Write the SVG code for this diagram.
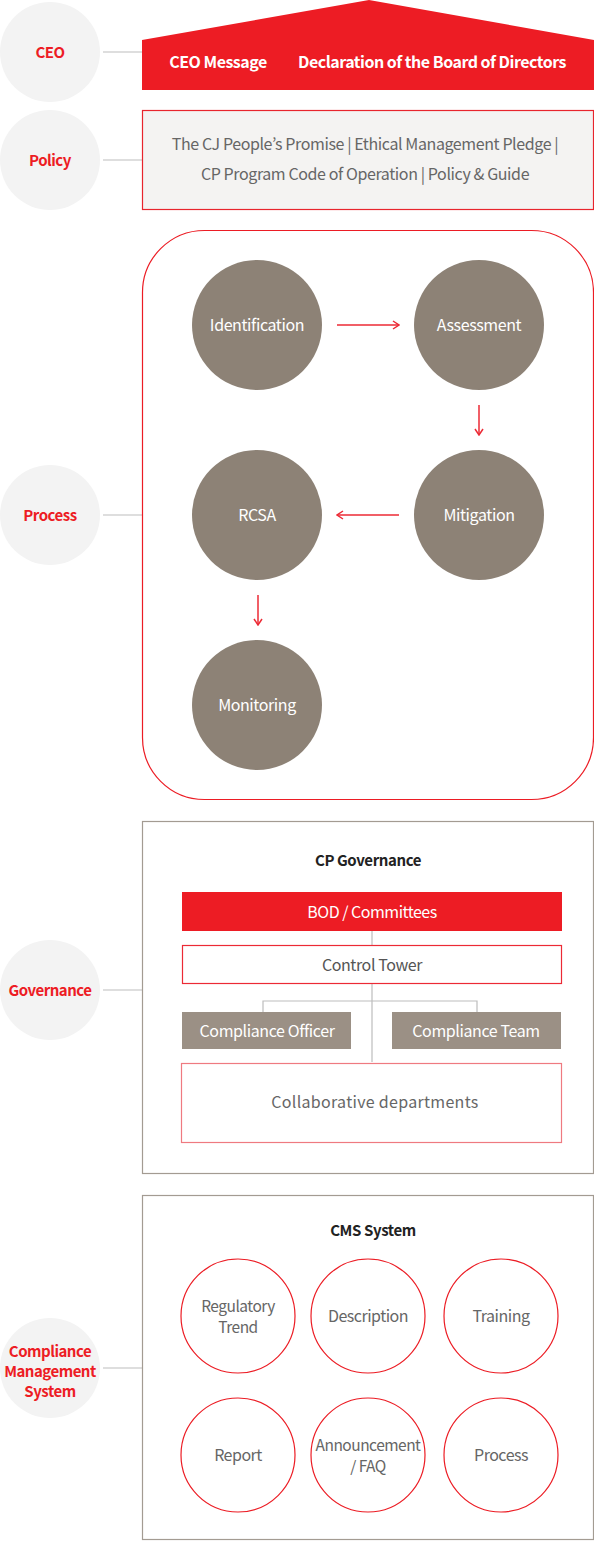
<svg xmlns="http://www.w3.org/2000/svg" width="594" height="1541" viewBox="0 0 594 1541">
<style>
text{font-family:"Noto Sans CJK KR","Noto Sans",sans-serif;text-anchor:middle;dominant-baseline:central}
.lab{fill:#f3f3f3}
.labt{fill:#ed1c24;font-size:15px;font-weight:bold;letter-spacing:-0.5px}
.link{stroke:#bdbdbd;stroke-width:1.2;fill:none}
.pc{fill:#8d8276}
.pt{fill:#fff;font-size:16px;letter-spacing:-0.4px}
.arr{stroke:#ec2a35;stroke-width:1.5;fill:none;marker-end:url(#ah)}
.gt{fill:#555;font-size:16px;letter-spacing:-0.4px}
.cc{fill:#fff;stroke:#ec1c24;stroke-width:1.2}
.ct{fill:#666;font-size:16px;letter-spacing:-0.5px}
.ct2{fill:#666;font-size:15.5px;letter-spacing:-0.5px}
.frame{fill:#fff;stroke:#a39b92;stroke-width:1.2}
.ttl{fill:#222;font-size:15px;font-weight:bold;letter-spacing:-0.4px}
</style>
<defs>
<marker id="ah" viewBox="0 0 10 10" refX="9" refY="5" markerWidth="10" markerHeight="10" markerUnits="userSpaceOnUse" orient="auto">
<path d="M3,1 L9,5 L3,9" fill="none" stroke="#ec2a35" stroke-width="1.5"/>
</marker>
</defs>
<g id="connectors">
<line class="link" x1="103" y1="52" x2="142" y2="52"/>
<line class="link" x1="103" y1="160" x2="142" y2="160"/>
<line class="link" x1="103" y1="515" x2="142" y2="515"/>
<line class="link" x1="103" y1="990" x2="142" y2="990"/>
<line class="link" x1="103" y1="1368" x2="142" y2="1368"/>
</g>
<g id="label-ceo"><circle class="lab" cx="50" cy="52" r="50"/><text class="labt" x="50" y="51">CEO</text></g>
<g id="label-policy"><circle class="lab" cx="50" cy="160" r="50"/><text class="labt" x="50" y="159">Policy</text></g>
<g id="label-process"><circle class="lab" cx="50" cy="515" r="50"/><text class="labt" x="50" y="514">Process</text></g>
<g id="label-governance"><circle class="lab" cx="50" cy="990" r="50"/><text class="labt" x="50" y="989">Governance</text></g>
<g id="label-cms"><circle class="lab" cx="50" cy="1368" r="50"/><text class="labt" x="50" y="1350">Compliance</text><text class="labt" x="50" y="1370">Management</text><text class="labt" x="50" y="1390">System</text></g>
<g id="ceo">
<polygon points="142,40 369,0 594,40 594,90 142,90" fill="#ed1c24"/>
<text x="218" y="61" fill="#fff" font-size="16" font-weight="bold" letter-spacing="-0.5">CEO Message</text>
<text x="432" y="61" fill="#fff" font-size="16" font-weight="bold" letter-spacing="-0.5">Declaration of the Board of Directors</text>
</g>
<g id="policy">
<rect x="142.5" y="110.5" width="451" height="99" fill="#f4f3f2" stroke="#e8242d" stroke-width="1.2"/>
<text x="365" y="143" fill="#666" font-size="16" letter-spacing="-0.4">The CJ People’s Promise | Ethical Management Pledge |</text>
<text x="365" y="173" fill="#666" font-size="16" letter-spacing="-0.4">CP Program Code of Operation | Policy &amp; Guide</text>
</g>
<g id="process">
<rect x="142.5" y="230.5" width="451" height="569" rx="62" fill="#fff" stroke="#ec1c24" stroke-width="1.2"/>
</g>
<g id="identification"><circle class="pc" cx="257" cy="325" r="65"/><text class="pt" x="257" y="324">Identification</text></g>
<g id="assessment"><circle class="pc" cx="479" cy="325" r="65"/><text class="pt" x="479" y="324">Assessment</text></g>
<g id="mitigation"><circle class="pc" cx="479" cy="515" r="65"/><text class="pt" x="479" y="514">Mitigation</text></g>
<g id="rcsa"><circle class="pc" cx="257" cy="515" r="65"/><text class="pt" x="257" y="514">RCSA</text></g>
<g id="monitoring"><circle class="pc" cx="257" cy="705" r="65"/><text class="pt" x="257" y="704">Monitoring</text></g>
<g id="process-arrows">
<line class="arr" x1="337" y1="325" x2="399" y2="325"/>
<line class="arr" x1="479" y1="405" x2="479" y2="435"/>
<line class="arr" x1="399" y1="515" x2="337" y2="515"/>
<line class="arr" x1="258" y1="595" x2="258" y2="625"/>
</g>
<g id="governance">
<rect class="frame" x="142.5" y="821.5" width="451" height="352"/>
<text class="ttl" x="368" y="859">CP Governance</text>
</g>
<g id="gov-lines">
<line x1="372" y1="931" x2="372" y2="1062" stroke="#bdbdbd" stroke-width="1.2"/>
<polyline points="263,1012 263,1001 477,1001 477,1012" fill="none" stroke="#bdbdbd" stroke-width="1.2"/>
</g>
<g id="bod"><rect x="182" y="892" width="380" height="39" fill="#ed1c24"/><text x="372" y="911" fill="#fff" font-size="16" letter-spacing="-0.5">BOD / Committees</text></g>
<g id="control-tower"><rect x="182.5" y="945.5" width="379" height="38" fill="#fff" stroke="#ec2a35" stroke-width="1.2"/><text class="gt" x="372" y="964">Control Tower</text></g>
<g id="compliance-officer"><rect x="182" y="1012" width="169" height="37" fill="#9b9085"/><text x="267" y="1030" fill="#fff" font-size="16" letter-spacing="-0.4">Compliance Officer</text></g>
<g id="compliance-team"><rect x="392" y="1012" width="169" height="37" fill="#9b9085"/><text x="476" y="1030" fill="#fff" font-size="16" letter-spacing="-0.4">Compliance Team</text></g>
<g id="collaborative"><rect x="181.5" y="1063.5" width="380" height="79" fill="#fff" stroke="#ef7a80" stroke-width="1.2"/><text x="375" y="1101" fill="#666" font-size="16" letter-spacing="0.3">Collaborative departments</text></g>
<g id="cms">
<rect class="frame" x="142.5" y="1195.5" width="451" height="344"/>
<text class="ttl" x="373" y="1229">CMS System</text>
</g>
<g id="regulatory"><circle class="cc" cx="238" cy="1316" r="57"/><text class="ct2" x="238" y="1304.5">Regulatory</text><text class="ct2" x="238" y="1325.5">Trend</text></g>
<g id="description"><circle class="cc" cx="368" cy="1316" r="57"/><text class="ct" x="368" y="1315">Description</text></g>
<g id="training"><circle class="cc" cx="501" cy="1316" r="57"/><text class="ct" x="501" y="1315">Training</text></g>
<g id="report"><circle class="cc" cx="238" cy="1455" r="57"/><text class="ct" x="238" y="1454">Report</text></g>
<g id="announcement"><circle class="cc" cx="368" cy="1455" r="57"/><text class="ct2" x="368" y="1444">Announcement</text><text class="ct2" x="368" y="1465">/ FAQ</text></g>
<g id="process-cms"><circle class="cc" cx="501" cy="1455" r="57"/><text class="ct" x="501" y="1454">Process</text></g>
</svg>
